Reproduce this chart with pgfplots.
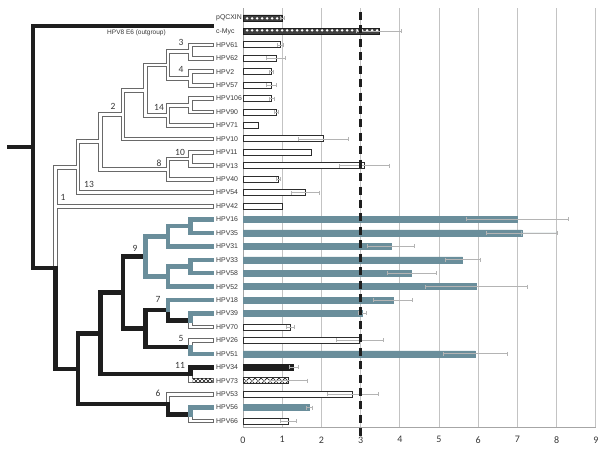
\documentclass[border=0pt]{standalone}
\usepackage{pgfplots}
\pgfplotsset{compat=1.18}
\usepackage{pgfplotstable}
\usepackage{fontspec}
\setmainfont{Liberation Sans}
\newfontfamily\cali{Carlito}
\usetikzlibrary{patterns}
\definecolor{teal2}{RGB}{106,142,155}
\definecolor{blk}{RGB}{30,30,30}
\definecolor{tgray}{RGB}{105,105,105}
\definecolor{txt}{RGB}{55,55,55}
\definecolor{errc}{RGB}{180,180,180}
\definecolor{gridc}{RGB}{195,195,195}
\definecolor{barc}{RGB}{45,45,45}

\pgfdeclarepatternformonly{bigx}{\pgfpoint{-1pt}{-1pt}}{\pgfpoint{7pt}{7pt}}{\pgfpoint{6pt}{6pt}}{%
  \pgfsetlinewidth{0.7pt}%
  \pgfpathmoveto{\pgfpoint{0.5pt}{0.5pt}}\pgfpathlineto{\pgfpoint{5.5pt}{5.5pt}}%
  \pgfpathmoveto{\pgfpoint{0.5pt}{5.5pt}}\pgfpathlineto{\pgfpoint{5.5pt}{0.5pt}}%
  \pgfusepath{stroke}}
\pgfdeclarepatternformonly{smallx}{\pgfpoint{-1pt}{-1pt}}{\pgfpoint{5pt}{5pt}}{\pgfpoint{4pt}{4pt}}{%
  \pgfsetlinewidth{0.6pt}%
  \pgfpathmoveto{\pgfpoint{0pt}{0pt}}\pgfpathlineto{\pgfpoint{4pt}{4pt}}%
  \pgfpathmoveto{\pgfpoint{0pt}{4pt}}\pgfpathlineto{\pgfpoint{4pt}{0pt}}%
  \pgfusepath{stroke}}
\pgfdeclarepatternformonly{rings}{\pgfpoint{0pt}{0pt}}{\pgfpoint{5pt}{6pt}}{\pgfpoint{5pt}{6pt}}{%
  \pgfpathellipse{\pgfpoint{2.5pt}{3pt}}{\pgfpoint{1.7pt}{0pt}}{\pgfpoint{0pt}{1.5pt}}%
  \pgfusepath{fill}}

\pgfplotsset{
  hb/.style={xbar, bar width=6pt, bar shift=0pt},
  eb/.style={error bars/.cd, x dir=both, x explicit, error mark=|,
    error bar style={draw=errc, line width=0.6pt},
    error mark options={draw=errc, line width=0.6pt, mark size=2pt}},
  treeline/.style={unbounded coords=jump, line cap=rect, line join=miter, mark=none},
}

% ---------------- tree (pixel coordinates, y downward negative) ----------------
\pgfplotstableread{
x y
55.5 -268
55.5 -167.2
78 -167.2
nan nan
55.5 -268
55.5 -206.1
212 -206.1
nan nan
78 -167.2
78 -141.8
100.5 -141.8
nan nan
78 -167.2
78 -192.6
212 -192.6
nan nan
100.5 -141.8
100.5 -114.55
123 -114.55
nan nan
100.5 -141.8
100.5 -169.1
168 -169.1
nan nan
123 -114.55
123 -90.2
145.5 -90.2
nan nan
123 -114.55
123 -138.9
212 -138.9
nan nan
145.5 -90.2
145.5 -65
168 -65
nan nan
145.5 -90.2
145.5 -115.4
168 -115.4
nan nan
168 -65
168 -51.6
190.5 -51.6
nan nan
168 -65
168 -78.45
190.5 -78.45
nan nan
190.5 -51.6
190.5 -44.9
212 -44.9
nan nan
190.5 -51.6
190.5 -58.3
212 -58.3
nan nan
190.5 -78.45
190.5 -71.7
212 -71.7
nan nan
190.5 -78.45
190.5 -85.2
212 -85.2
nan nan
168 -115.4
168 -105.3
190.5 -105.3
nan nan
168 -115.4
168 -125.5
212 -125.5
nan nan
190.5 -105.3
190.5 -98.6
212 -98.6
nan nan
190.5 -105.3
190.5 -112
212 -112
nan nan
168 -169.1
168 -159.05
190.5 -159.05
nan nan
168 -169.1
168 -179.2
212 -179.2
nan nan
190.5 -159.05
190.5 -152.3
212 -152.3
nan nan
190.5 -159.05
190.5 -165.8
212 -165.8
nan nan
190.5 -320.25
190.5 -327
212 -327
nan nan
190.5 -347.1
190.5 -340.4
212 -340.4
nan nan
168 -404.2
168 -394.1
212 -394.1
nan nan
190.5 -414.3
190.5 -421
212 -421
nan nan
190.5 -374
190.5 -380.7
212 -380.7
}\grayT

\pgfplotstableread{
x y
9 -147
33 -147
nan nan
33 -147
33 -26
212 -26
nan nan
33 -147
33 -268
55.5 -268
nan nan
55.5 -268
55.5 -368.75
78 -368.75
nan nan
78 -368.75
78 -333.3
100.5 -333.3
nan nan
78 -368.75
78 -404.2
168 -404.2
nan nan
100.5 -333.3
100.5 -292.55
123 -292.55
nan nan
100.5 -333.3
100.5 -374
190.5 -374
nan nan
123 -292.55
123 -256.45
145.5 -256.45
nan nan
123 -292.55
123 -328.65
145.5 -328.65
nan nan
145.5 -328.65
145.5 -310.2
168 -310.2
nan nan
145.5 -328.65
145.5 -347.1
190.5 -347.1
nan nan
168 -310.2
168 -320.25
190.5 -320.25
nan nan
190.5 -374
190.5 -367.3
212 -367.3
nan nan
168 -404.2
168 -414.3
190.5 -414.3
}\blackT

\pgfplotstableread{
x y
145.5 -256.45
145.5 -236.3
168 -236.3
nan nan
145.5 -256.45
145.5 -276.6
168 -276.6
nan nan
168 -236.3
168 -226.2
190.5 -226.2
nan nan
168 -236.3
168 -246.4
212 -246.4
nan nan
190.5 -226.2
190.5 -219.5
212 -219.5
nan nan
190.5 -226.2
190.5 -232.9
212 -232.9
nan nan
168 -276.6
168 -266.5
190.5 -266.5
nan nan
168 -276.6
168 -286.7
212 -286.7
nan nan
190.5 -266.5
190.5 -259.8
212 -259.8
nan nan
190.5 -266.5
190.5 -273.2
212 -273.2
nan nan
168 -310.2
168 -300.1
212 -300.1
nan nan
190.5 -320.25
190.5 -313.5
212 -313.5
nan nan
190.5 -347.1
190.5 -353.8
212 -353.8
nan nan
190.5 -414.3
190.5 -407.6
212 -407.6
}\tealT

% ---------------- bar data ----------------
\pgfplotstableread{
v pos e
1.00 0 0.05
3.47 -1 0.58
}\ringB
\pgfplotstableread{
v pos e
0.95 -2 0.07
0.84 -3 0.25
0.73 -4 0.05
0.72 -5 0.13
0.73 -6 0.06
0.85 -7 0.06
2.05 -9 0.63
3.09 -11 0.64
0.91 -12 0.05
1.59 -13 0.35
1.21 -23 0.11
2.97 -24 0.60
2.79 -28 0.65
1.16 -30 0.20
}\whiteB
\pgfplotstableread{
v pos
0.40 -8
1.75 -10
1.01 -14
}\whiteN
\pgfplotstableread{
v pos e
7.00 -15 1.31
7.11 -16 0.90
3.77 -17 0.61
5.60 -18 0.45
4.30 -19 0.63
5.95 -20 1.29
3.83 -21 0.50
3.05 -22 0.10
5.93 -25 0.82
1.69 -29 0.08
}\tealB
\pgfplotstableread{
v pos e
1.29 -26 0.12
}\blackB
\pgfplotstableread{
v pos e
1.16 -27 0.48
}\crossB

\begin{document}
\begin{tikzpicture}
\useasboundingbox (0pt,0pt) rectangle (609pt,-453pt);

% tree
\begin{axis}[at={(0pt,0pt)}, anchor=north west, x=1pt, y=1pt,
  xmin=0, xmax=609, ymin=-453, ymax=0, hide axis, clip=false]
  \addplot[treeline, draw=tgray, line width=4.8pt] table[x=x,y=y] {\grayT};
  \addplot[treeline, draw=white, line width=2.8pt] table[x=x,y=y] {\grayT};
  \addplot[draw=none, pattern=smallx, pattern color=blk] coordinates {(192.5,-378.9) (212.5,-378.9) (212.5,-382.5) (192.5,-382.5) (192.5,-378.9)};
  \addplot[treeline, draw=blk, line width=4.5pt] table[x=x,y=y] {\blackT};
  \addplot[treeline, draw=teal2, line width=4.5pt] table[x=x,y=y] {\tealT};
  \begin{scope}[every node/.style={font=\cali\fontsize{9.5}{10}\selectfont, text=txt, inner sep=0pt}]
    \node at (axis cs:181,-42) {3};
    \node at (axis cs:181,-69) {4};
    \node at (axis cs:159,-107) {14};
    \node at (axis cs:113,-106) {2};
    \node at (axis cs:180,-152) {10};
    \node at (axis cs:159,-163) {8};
    \node at (axis cs:89,-184) {13};
    \node at (axis cs:63,-197) {1};
    \node at (axis cs:135,-248) {9};
    \node at (axis cs:158,-299) {7};
    \node at (axis cs:181,-338) {5};
    \node at (axis cs:180,-365) {11};
    \node at (axis cs:158,-393) {6};
  \end{scope}
  \node[font=\fontsize{6.5}{7}\selectfont, text=txt, inner sep=0pt] at (axis cs:136.5,-33) {HPV8 E6 (outgroup)};
\end{axis}

% bars
\begin{axis}[at={(243pt,-427pt)}, anchor=south west,
  x=39.2pt, y=13.433pt,
  xmin=0, xmax=9, ymin=-30.45, ymax=0.75,
  axis x line*=bottom, axis y line*=left,
  axis line style={draw=gray!70, line width=0.7pt, -},
  xtick={0,1,...,9},
  xmajorgrids, grid style={draw=gridc, line width=0.8pt},
  major tick length=0pt,
  ytick={0,-1,...,-30},
  yticklabels={pQCXIN,c-Myc,HPV61,HPV62,HPV2,HPV57,HPV106,HPV90,HPV71,HPV10,HPV11,HPV13,HPV40,HPV54,HPV42,HPV16,HPV35,HPV31,HPV33,HPV58,HPV52,HPV18,HPV39,HPV70,HPV26,HPV51,HPV34,HPV73,HPV53,HPV56,HPV66},
  yticklabel style={anchor=west, xshift=-27pt, inner sep=0pt, font=\fontsize{6.9}{7}\selectfont, text=txt},
  xticklabel style={font=\cali\fontsize{10}{11}\selectfont, text=txt, yshift=-6pt},
  /pgf/number format/assume math mode=true,
  clip=false]
  \addplot[hb, fill=black!75, draw=blk, line width=0.8pt, postaction={pattern=rings, pattern color=white}, eb] table[x=v,y=pos,x error=e] {\ringB};
  \addplot[hb, fill=white, draw=barc, line width=0.8pt, eb] table[x=v,y=pos,x error=e] {\whiteB};
  \addplot[hb, fill=white, draw=barc, line width=0.8pt] table[x=v,y=pos] {\whiteN};
  \addplot[hb, fill=teal2, draw=teal2, line width=0.3pt, eb] table[x=v,y=pos,x error=e] {\tealB};
  \addplot[hb, fill=blk, draw=blk, line width=0.3pt, eb] table[x=v,y=pos,x error=e] {\blackB};
  \addplot[hb, fill=white, draw=barc, line width=0.8pt, postaction={pattern=bigx, pattern color=blk}, eb] table[x=v,y=pos,x error=e] {\crossB};
  \addplot[blk, line width=2.8pt, dash pattern=on 8pt off 5.433pt] coordinates {(3,0.45) (3,-31.2)};
\end{axis}
\end{tikzpicture}
\end{document}
